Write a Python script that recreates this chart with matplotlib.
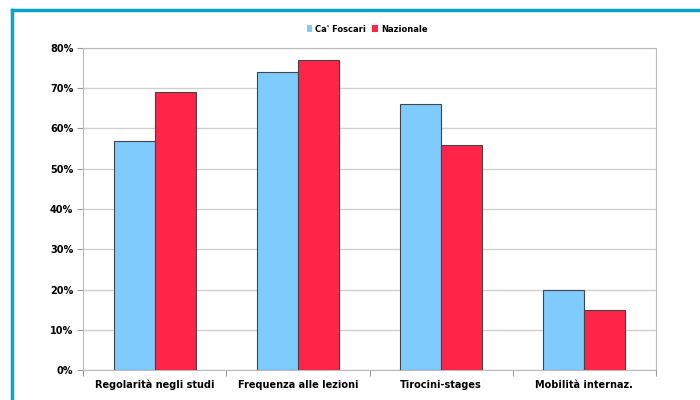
import matplotlib
matplotlib.use('Agg')
from matplotlib import pyplot as plt
from matplotlib.lines import Line2D
import numpy as np

categories = ['Regolarità negli studi', 'Frequenza alle lezioni', 'Tirocini-stages', 'Mobilità internaz.']
ca_foscari = [57, 74, 66, 20]
nazionale = [69, 77, 56, 15]
yticks = [0, 10, 20, 30, 40, 50, 60, 70, 80]

font = ['Liberation Sans Narrow', 'DejaVu Sans Condensed', 'DejaVu Sans']
plt.rcParams['font.family'] = font

fig = plt.figure(figsize=(7, 4), dpi=100)
ax = fig.add_axes([83 / 700, 1 - 370 / 400, 573 / 700, 322 / 400])

x = np.arange(len(categories))
w = 0.287
ax.bar(x - w / 2, ca_foscari, w, color='#7fcbfd', edgecolor='#444444', linewidth=0.8, label="Ca' Foscari", zorder=3)
ax.bar(x + w / 2, nazionale, w, color='#fe2549', edgecolor='#444444', linewidth=0.8, label='Nazionale', zorder=3)

ax.set_xlim(-0.5, len(categories) - 0.5)
ax.set_ylim(0, 80)
ax.set_yticks(yticks)
ax.set_yticklabels([f'{v}%' for v in yticks], fontsize=7, fontweight='bold')
ax.set_xticks(np.arange(len(categories) + 1) - 0.5)
ax.set_xticklabels([])
ax.set_xticks(x, minor=True)
ax.set_xticklabels(categories, minor=True, fontsize=7, fontweight='bold')
ax.tick_params(axis='x', which='minor', length=0, pad=7)
ax.tick_params(axis='x', which='major', length=4, color='#999999')
ax.tick_params(axis='y', length=4, color='#999999', pad=3)
ax.yaxis.grid(True, color='#d0d0d0', linewidth=1, zorder=0)
for s in ax.spines.values():
    s.set_color('#bbbbbb')

leg = fig.legend(loc='center', bbox_to_anchor=(367 / 700, 1 - 29 / 400), ncol=2, frameon=False,
                 handlelength=0.7, handleheight=0.9, handletextpad=0.3, columnspacing=0.8,
                 prop={'family': font, 'weight': 'bold', 'size': 6})
for h in leg.legend_handles:
    h.set_edgecolor('none')

fig.add_artist(Line2D([12 / 700, 12 / 700], [0, 1 - 10 / 400], color='#0aa3cc', linewidth=2.5))
fig.add_artist(Line2D([12 / 700, 1], [1 - 10 / 400, 1 - 10 / 400], color='#0aa3cc', linewidth=2.5))

fig.savefig('out.png', dpi=100)
